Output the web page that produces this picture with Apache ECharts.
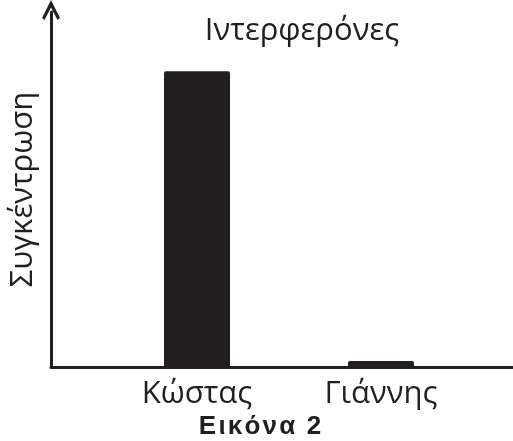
<!DOCTYPE html>
<html>
<head>
<meta charset="utf-8">
<script src="https://cdn.jsdelivr.net/npm/echarts@6/dist/echarts.min.js"></script>
<style>html,body{margin:0;padding:0;background:#fff}#c{width:513px;height:441px}</style>
</head>
<body>
<div id="c"></div>
<script>
const categories = ['Κώστας', 'Γιάννης'];
const values = [100, 2];
const titleText = 'Ιντερφερόνες';
const yName = 'Συγκέντρωση';
const caption = 'Εικόνα 2';

const ink = '#231f20';
const font = '"Open Sans", "DejaVu Sans", sans-serif';
const spaced = caption.split('').join('\u200A');
const chart = echarts.init(document.getElementById('c'), null, {renderer: 'canvas'});
chart.setOption({
  animation: false,
  backgroundColor: '#fff',
  title: [
    {text: titleText, left: 297, top: 11, textAlign: 'center',
     textStyle: {fontFamily: font, fontSize: 31, fontWeight: 'normal', color: ink}},
    {text: spaced, left: 255, top: 409, textAlign: 'center',
     textStyle: {fontFamily: '"Liberation Sans", Arial, sans-serif', fontSize: 26, fontWeight: 'bold', color: ink}}
  ],
  grid: [
    {left: 105, right: 40, top: 12, bottom: 74},
    {left: 51, right: 0, top: 12, bottom: 74}
  ],
  xAxis: [
    {type: 'category', gridIndex: 0, data: categories,
     axisLine: {show: false}, axisTick: {show: false},
     axisLabel: {fontFamily: font, fontSize: 31, color: ink, margin: 12}},
    {type: 'value', gridIndex: 1, min: 0, max: 1,
     axisLine: {show: true, lineStyle: {color: ink, width: 3}},
     axisTick: {show: false}, axisLabel: {show: false}, splitLine: {show: false}}
  ],
  yAxis: [
    {type: 'value', gridIndex: 0, min: 0, max: 120,
     axisLine: {show: false}, axisTick: {show: false}, axisLabel: {show: false}, splitLine: {show: false}},
    {type: 'value', gridIndex: 1, min: 0, max: 1,
     name: yName, nameLocation: 'middle', nameGap: 12,
     nameTextStyle: {fontFamily: font, fontSize: 31, color: ink},
     axisLine: {show: true, lineStyle: {color: ink, width: 3},
       symbol: ['none', 'path://M0,10 L5,0 L10,10 L8.7,11.3 L5,4.2 L1.3,11.3 Z'],
       symbolSize: [24, 20], symbolOffset: [0, 2]},
     axisTick: {show: false}, axisLabel: {show: false}, splitLine: {show: false}}
  ],
  series: [{
    type: 'bar', xAxisIndex: 0, yAxisIndex: 0, data: values, barWidth: 66,
    itemStyle: {color: ink, borderRadius: [2, 2, 0, 0]}
  }]
});
</script>
</body>
</html>
